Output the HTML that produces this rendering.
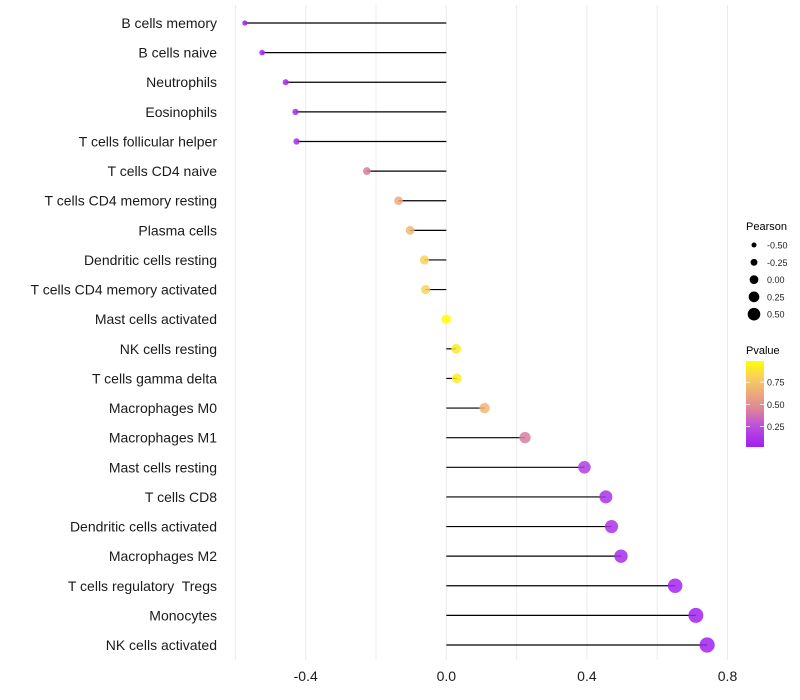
<!DOCTYPE html>
<html><head><meta charset="utf-8"><style>
body{margin:0;background:#fff;}
svg{display:block;font-family:"Liberation Sans",sans-serif;}
text{white-space:pre;}
</style></head><body>
<svg id="chart" width="800" height="700"></svg>
<script>
const categories=["B cells memory","B cells naive","Neutrophils","Eosinophils","T cells follicular helper","T cells CD4 naive","T cells CD4 memory resting","Plasma cells","Dendritic cells resting","T cells CD4 memory activated","Mast cells activated","NK cells resting","T cells gamma delta","Macrophages M0","Macrophages M1","Mast cells resting","T cells CD8","Dendritic cells activated","Macrophages M2","T cells regulatory  Tregs","Monocytes","NK cells activated"];
const pearson=[-0.573,-0.524,-0.457,-0.429,-0.426,-0.226,-0.136,-0.103,-0.062,-0.059,0.0,0.028,0.030,0.109,0.224,0.393,0.454,0.470,0.497,0.651,0.710,0.742];
const pvalue=[0.01,0.02,0.05,0.06,0.06,0.42,0.62,0.7,0.82,0.82,0.99,0.92,0.92,0.68,0.42,0.15,0.1,0.09,0.07,0.02,0.01,0.005];
const xTicks=[-0.4,0,0.4,0.8];
const xTickLabels=["-0.4","0.0","0.4","0.8"];
const legendSizes=[-0.5,-0.25,0,0.25,0.5];
const legendSizeLabels=["-0.50","-0.25","0.00","0.25","0.50"];
const legendP=[0.75,0.5,0.25];
const legendPLabels=["0.75","0.50","0.25"];

const NS="http://www.w3.org/2000/svg";
const svg=document.getElementById('chart');
const x=v=>446.3+v*351.5;
const y=i=>23+i*29.62;
const r=v=>4.8+3.8*v;
const stops=[[0,[160,32,240]],[0.25,[190,80,220]],[0.45,[222,135,150]],[0.65,[238,175,120]],[0.82,[248,210,90]],[1,[255,255,0]]];
function col(p){for(let k=1;k<stops.length;k++){if(p<=stops[k][0]){const a=stops[k-1],b=stops[k];const t=(p-a[0])/(b[0]-a[0]);return 'rgb('+a[1].map((c,j)=>Math.round(c+(b[1][j]-c)*t)).join(',')+')';}}return 'rgb(255,255,0)';}
function el(t,a,parent){const e=document.createElementNS(NS,t);for(const k in a)e.setAttribute(k,a[k]);(parent||svg).appendChild(e);return e;}

for(let g=-0.6;g<=0.81;g+=0.2){
const ln=el('line',{x1:x(g),x2:x(g),y1:5,y2:660,stroke:'#ebebeb','stroke-width':1});


}
categories.forEach((c,i)=>{
const t=el('text',{x:217,y:y(i)+5,'text-anchor':'end','font-size':14,fill:'#1a1a1a'});t.textContent=c;


const ln=el('line',{x1:x(0),x2:x(pearson[i]),y1:y(i),y2:y(i),stroke:'#000','stroke-width':1.2});


const d=el('circle',{cx:x(pearson[i]),cy:y(i),r:r(pearson[i]),fill:col(pvalue[i]),'fill-opacity':0.85});


});
xTicks.forEach((v,i)=>{
const t=el('text',{x:x(v),y:681,'text-anchor':'middle','font-size':14,fill:'#1a1a1a'});t.textContent=xTickLabels[i];


});
let t=el('text',{x:746,y:230,'font-size':11,fill:'#000'});t.textContent='Pearson';


legendSizes.forEach((v,i)=>{
const cy=245+i*17.3;
const c=el('circle',{cx:754,cy:cy,r:r(v)-0.4,fill:'#000'});


const tt=el('text',{x:767,y:cy+3.5,'font-size':9,fill:'#222'});tt.textContent=legendSizeLabels[i];


});
t=el('text',{x:746,y:354,'font-size':11,fill:'#000'});t.textContent='Pvalue';


const defs=el('defs',{});
const lg=el('linearGradient',{id:'pg',x1:0,y1:1,x2:0,y2:0},defs);
stops.forEach(s=>el('stop',{offset:s[0],'stop-color':'rgb('+s[1].join(',')+')'},lg));
const bar=el('rect',{x:746,y:361,width:18,height:86,fill:'url(#pg)'});


const py=p=>447-(p-0.02)/0.25*22.2;
legendP.forEach((v,i)=>{
el('line',{x1:746,x2:750,y1:py(v),y2:py(v),stroke:'#fff','stroke-width':0.8});
el('line',{x1:760,x2:764,y1:py(v),y2:py(v),stroke:'#fff','stroke-width':0.8});
const tt=el('text',{x:767,y:py(v)+3.5,'font-size':9,fill:'#222'});tt.textContent=legendPLabels[i];


});
</script>
</body></html>
